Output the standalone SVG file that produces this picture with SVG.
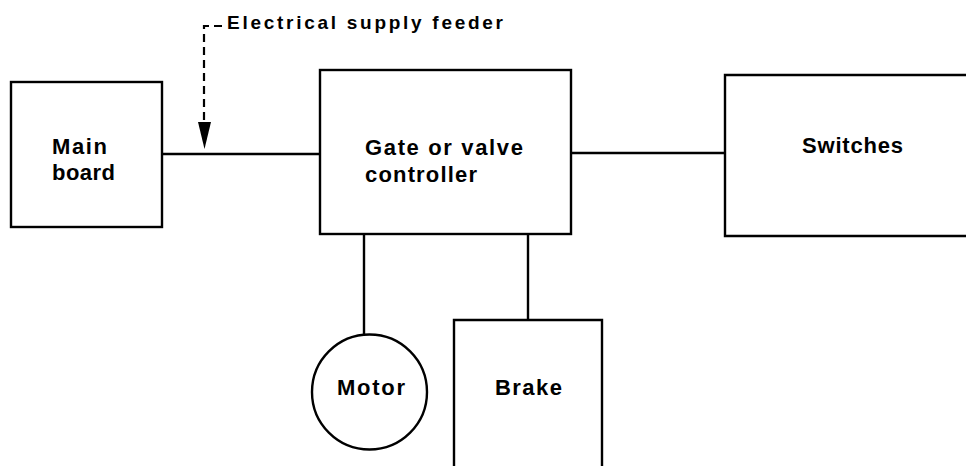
<svg xmlns="http://www.w3.org/2000/svg" width="966" height="466" viewBox="0 0 966 466">
<style>
.box{fill:none;stroke:#000;stroke-width:2.4}
.ln{fill:none;stroke:#000;stroke-width:2.4}
.dash{fill:none;stroke:#000;stroke-width:2.2;stroke-dasharray:8 5}
.t{font-family:"Liberation Sans",Arial,sans-serif;font-weight:700;font-size:22px;fill:#000}
.s{font-family:"Liberation Sans",Arial,sans-serif;font-weight:700;font-size:19px;fill:#000}
</style>
<rect width="966" height="466" fill="#fff"/>
<g id="connectors">
<line class="ln" x1="161" y1="154" x2="320" y2="154"/>
<line class="ln" x1="571" y1="153" x2="725" y2="153"/>
<line class="ln" x1="364" y1="234" x2="364" y2="335"/>
<line class="ln" x1="528" y1="234" x2="528" y2="320"/>
<path class="dash" d="M222 26 H204 V124"/>
<polygon points="198,122 211,122 204.5,149" fill="#000"/>
<text class="s" x="227" y="29" textLength="276" lengthAdjust="spacing">Electrical supply feeder</text>
</g>
<g id="main-board">
<rect class="box" x="11" y="82" width="151" height="145"/>
<text class="t" x="52" y="154" textLength="55" lengthAdjust="spacing">Main</text>
<text class="t" x="52" y="180" textLength="63" lengthAdjust="spacing">board</text>
</g>
<g id="controller">
<rect class="box" x="320" y="70" width="251" height="164"/>
<text class="t" x="365" y="155" textLength="158" lengthAdjust="spacing">Gate or valve</text>
<text class="t" x="365" y="182" textLength="112" lengthAdjust="spacing">controller</text>
</g>
<g id="switches">
<path class="box" d="M968 75 H725 V236 H968"/>
<text class="t" x="802" y="153" textLength="101" lengthAdjust="spacing">Switches</text>
</g>
<g id="motor">
<circle class="box" cx="369.5" cy="392" r="57.5"/>
<text class="t" x="337" y="395" textLength="68" lengthAdjust="spacing">Motor</text>
</g>
<g id="brake">
<path class="box" d="M454 468 V320 H602 V468"/>
<text class="t" x="495" y="395" textLength="67" lengthAdjust="spacing">Brake</text>
</g>
</svg>
